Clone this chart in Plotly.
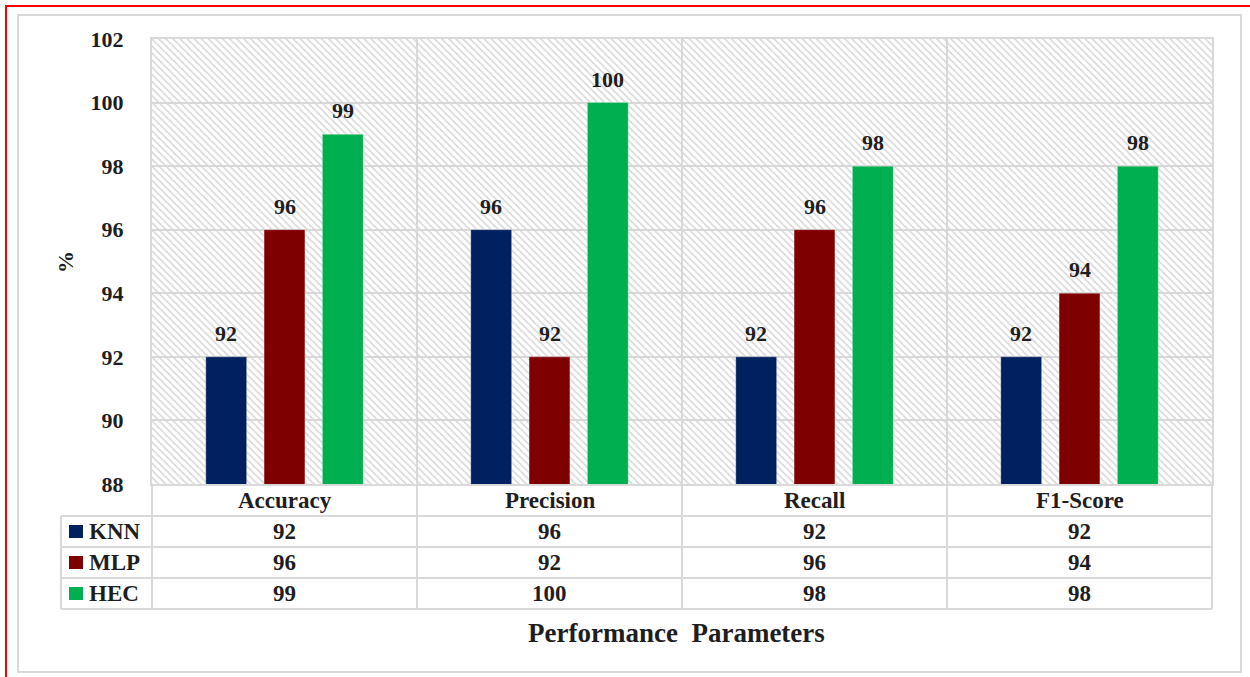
import plotly.graph_objects as go

# ---- data ----
categories = ["Accuracy", "Precision", "Recall", "F1-Score"]
models = ["KNN", "MLP", "HEC"]
knn = [92, 96, 92, 92]
mlp = [96, 92, 96, 94]
hec = [99, 100, 98, 98]
colors = ["#002060", "#7f0000", "#00b050"]
y_ticks = [88, 90, 92, 94, 96, 98, 100, 102]

series = [knn, mlp, hec]

# ---- layout geometry (pixels) ----
W_FIG, H_FIG = 1250, 677
L, R, T, B = 152, 1212, 39, 484
PW, PH = R - L, B - T

FONT = "Liberation Serif, Times New Roman, serif"
TXT = "#1e1e1e"
GRID = "#d9d9d9"
BARGAP, GROUPGAP = 0.34, 0.30


def px_x(p):
    return (p - L) / PW


def px_y(p):
    return (B - p) / PH


def bold(s):
    return f"<b>{s}</b>"


def label(x, y, text, xref="paper", size=23, **kw):
    d = dict(x=x, y=y, xref=xref, yref="paper", text=bold(text), showarrow=False,
             xanchor="center", yanchor="middle",
             font=dict(family=FONT, size=size, color=TXT))
    d.update(kw)
    return d


fig = go.Figure()

# hatched plot-area background (drawn on the hidden base axes)
fig.add_trace(go.Bar(
    x=[0.5], y=[1], width=[1], base=[0],
    xaxis="x", yaxis="y",
    marker=dict(color="rgba(0,0,0,0)", line=dict(width=0),
                pattern=dict(shape="\\", fgcolor="#d6d6d6", size=5,
                             solidity=0.3, fillmode="replace")),
    hoverinfo="skip", showlegend=False,
))

# grouped bars
for name, vals, col in zip(models, series, colors):
    fig.add_trace(go.Bar(
        x=categories, y=vals, name=name,
        xaxis="x2", yaxis="y2",
        marker=dict(color=col, line=dict(width=0.8, color="rgba(255,255,255,0.35)")),
        showlegend=False,
    ))

annotations = []
shapes = []

# value labels above bars
n = len(models)
slot = (1 - BARGAP) / n
for j, vals in enumerate(series):
    off = (j - (n - 1) / 2) * slot
    for i, v in enumerate(vals):
        annotations.append(dict(
            x=i + off, y=v, xref="x2", yref="y2", text=bold(v),
            showarrow=False, xanchor="center", yanchor="bottom", yshift=9,
            font=dict(family=FONT, size=22, color=TXT)))

# category header row
annotations += [label(c, px_y(500.5), c, xref="x2") for c in categories]

# data table rows
row_lines = [516, 547, 578, 609]
for r, (name, vals, col) in enumerate(zip(models, series, colors)):
    yc = (row_lines[r] + row_lines[r + 1]) / 2
    annotations.append(label(px_x(87), px_y(yc), name, xanchor="left"))
    shapes.append(dict(type="rect", xref="paper", yref="paper",
                       x0=px_x(69), x1=px_x(83), y0=px_y(yc + 6.5), y1=px_y(yc - 6.5),
                       fillcolor=col, line=dict(width=0)))
    for c, v in zip(categories, vals):
        annotations.append(label(c, px_y(yc), v, xref="x2"))

# table grid lines
line_style = dict(color=GRID, width=2)
for yl in row_lines:
    shapes.append(dict(type="line", xref="paper", yref="paper",
                       x0=px_x(61), x1=1, y0=px_y(yl), y1=px_y(yl), line=line_style))
for k in range(len(categories) + 1):
    xk = k / len(categories)
    shapes.append(dict(type="line", xref="paper", yref="paper",
                       x0=xk, x1=xk, y0=px_y(B), y1=px_y(609), line=line_style))
shapes.append(dict(type="line", xref="paper", yref="paper",
                   x0=px_x(61), x1=px_x(61), y0=px_y(516), y1=px_y(609), line=line_style))

# axis titles
annotations.append(label(px_x(65), px_y(262), "%", textangle=-90, size=22))
annotations.append(label(px_x(676), px_y(633), "Performance  Parameters", size=27))

# outer frames
shapes.append(dict(type="rect", xref="paper", yref="paper",
                   x0=px_x(18), x1=px_x(1241), y0=px_y(672), y1=px_y(15),
                   line=dict(color="#d9d9d9", width=2), fillcolor="rgba(0,0,0,0)"))
shapes.append(dict(type="rect", xref="paper", yref="paper",
                   x0=px_x(6), x1=px_x(1256), y0=px_y(684), y1=px_y(6),
                   line=dict(color="#ff0000", width=2), fillcolor="rgba(0,0,0,0)"))

fig.update_layout(
    width=W_FIG, height=H_FIG,
    margin=dict(l=L, r=W_FIG - R, t=T, b=H_FIG - B, pad=0),
    paper_bgcolor="white", plot_bgcolor="white",
    barmode="group", bargap=BARGAP, bargroupgap=GROUPGAP,
    xaxis=dict(visible=False, range=[0, 1], fixedrange=True),
    yaxis=dict(visible=False, range=[0, 1], fixedrange=True),
    xaxis2=dict(type="category", overlaying="x", anchor="y2",
                categoryorder="array", categoryarray=categories,
                range=[-0.5, len(categories) - 0.5],
                tickson="boundaries", showgrid=True, gridcolor=GRID, gridwidth=2,
                showticklabels=False, ticks="",
                showline=True, mirror=True, linecolor=GRID, linewidth=2,
                zeroline=False),
    yaxis2=dict(overlaying="y", anchor="x2", side="left",
                range=[y_ticks[0], y_ticks[-1]], tickmode="array", tickvals=y_ticks,
                showgrid=True, gridcolor=GRID, gridwidth=2,
                showline=True, mirror=True, linecolor=GRID, linewidth=2,
                zeroline=False, ticks="", ticklabelstandoff=22,
                tickfont=dict(family=FONT, size=22, color=TXT, weight="bold")),
    annotations=annotations,
    shapes=shapes,
    showlegend=False,
)

fig.write_html("out.html")
